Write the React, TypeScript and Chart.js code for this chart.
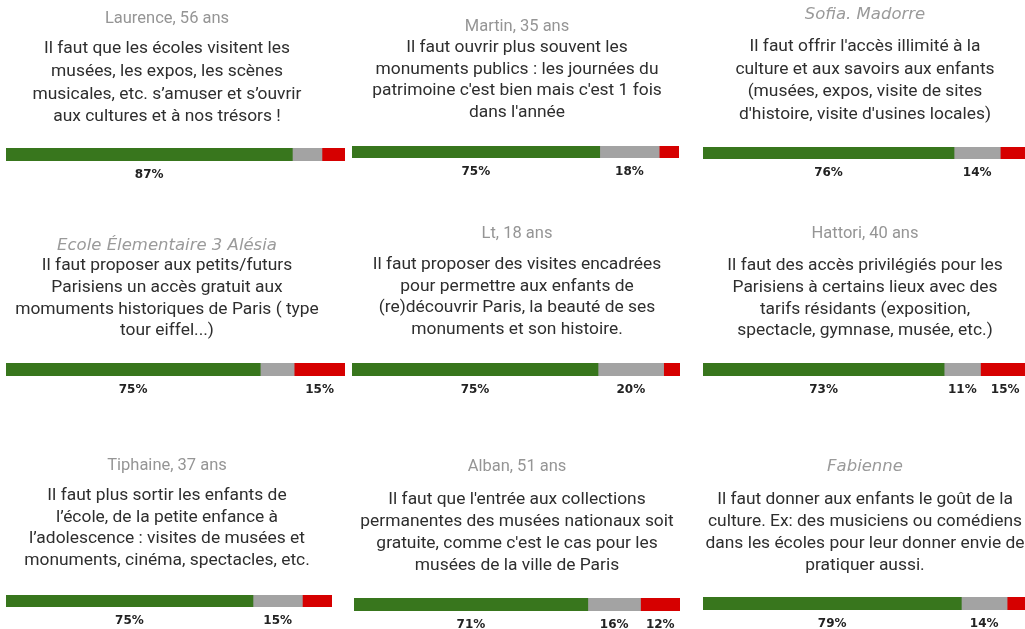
import React, { useEffect, useRef } from "react";
import { Chart, registerables } from "chart.js";

Chart.register(...registerables);

// ---------------- DATA ----------------
const names = [
  "Laurence, 56 ans",
  "Martin, 35 ans",
  "Sofia. Madorre",
  "Ecole Élementaire 3 Alésia",
  "Lt, 18 ans",
  "Hattori, 40 ans",
  "Tiphaine, 37 ans",
  "Alban, 51 ans",
  "Fabienne",
];

const italicNames = [false, false, true, true, false, false, false, false, true];

const quotes = [
  [
    "Il faut que les écoles visitent les",
    "musées, les expos, les scènes",
    "musicales, etc. s’amuser et s’ouvrir",
    "aux cultures et à nos trésors !",
  ],
  [
    "Il faut ouvrir plus souvent les",
    "monuments publics : les journées du",
    "patrimoine c'est bien mais c'est 1 fois",
    "dans l'année",
  ],
  [
    "Il faut offrir l'accès illimité à la",
    "culture et aux savoirs aux enfants",
    "(musées, expos, visite de sites",
    "d'histoire, visite d'usines locales)",
  ],
  [
    "Il faut proposer aux petits/futurs",
    "Parisiens un accès gratuit aux",
    "momuments historiques de Paris ( type",
    "tour eiffel...)",
  ],
  [
    "Il faut proposer des visites encadrées",
    "pour permettre aux enfants de",
    "(re)découvrir Paris, la beauté de ses",
    "monuments et son histoire.",
  ],
  [
    "Il faut des accès privilégiés pour les",
    "Parisiens à certains lieux avec des",
    "tarifs résidants (exposition,",
    "spectacle, gymnase, musée, etc.)",
  ],
  [
    "Il faut plus sortir les enfants de",
    "l’école, de la petite enfance à",
    "l’adolescence : visites de musées et",
    "monuments, cinéma, spectacles, etc.",
  ],
  [
    "Il faut que l'entrée aux collections",
    "permanentes des musées nationaux soit",
    "gratuite, comme c'est le cas pour les",
    "musées de la ville de Paris",
  ],
  [
    "Il faut donner aux enfants le goût de la",
    "culture. Ex: des musiciens ou comédiens",
    "dans les écoles pour leur donner envie de",
    "pratiquer aussi.",
  ],
];

const seriesNames = ["D'accord", "Sans avis", "Pas d'accord"];
const agree = [87, 75, 76, 75, 75, 73, 75, 71, 79];
const neutral = [9, 18, 14, 10, 20, 11, 15, 16, 14];
const disagree = [7, 6, 9, 15, 5, 15, 9, 12, 7];

// ---------------- STYLE / LAYOUT ----------------
const seriesColors = ["#38761d", "#a3a3a3", "#d60000"];
const LABEL_MIN = 10;

type Box = {
  left: number; top: number; width: number; height: number;
  barL: number; barR: number; barT: number; barB: number;
  cx: number; nameY: number; quoteY: number; lh: number;
};

// page coordinates
const boxes: Box[] = [
  { left: 0, top: 0, width: 347, height: 200, barL: 6, barR: 345, barT: 148, barB: 161, cx: 167, nameY: 19, quoteY: 49, lh: 22.7 },
  { left: 347, top: 0, width: 343, height: 200, barL: 352, barR: 679, barT: 146, barB: 158, cx: 517, nameY: 27, quoteY: 48, lh: 21.5 },
  { left: 690, top: 0, width: 345, height: 200, barL: 703, barR: 1030, barT: 147, barB: 159, cx: 865, nameY: 15, quoteY: 47, lh: 22.5 },
  { left: 0, top: 200, width: 347, height: 220, barL: 6, barR: 345, barT: 363, barB: 376, cx: 167, nameY: 246, quoteY: 266, lh: 21.7 },
  { left: 347, top: 200, width: 343, height: 220, barL: 352, barR: 680, barT: 363, barB: 376, cx: 517, nameY: 234, quoteY: 265, lh: 21.5 },
  { left: 690, top: 200, width: 345, height: 220, barL: 703, barR: 1030, barT: 363, barB: 376, cx: 865, nameY: 234, quoteY: 266, lh: 21.7 },
  { left: 0, top: 420, width: 347, height: 209, barL: 6, barR: 332, barT: 595, barB: 607, cx: 167, nameY: 466, quoteY: 496, lh: 21.5 },
  { left: 347, top: 420, width: 343, height: 209, barL: 354, barR: 680, barT: 598, barB: 611, cx: 517, nameY: 467, quoteY: 500, lh: 22 },
  { left: 690, top: 420, width: 345, height: 209, barL: 703, barR: 1030, barT: 597, barB: 610, cx: 865, nameY: 467, quoteY: 500, lh: 22 },
];

const cardTextPlugin = {
  id: "cardText",
  afterDraw(chart: any, _args: any, opts: any) {
    const ctx = chart.ctx;
    ctx.save();
    ctx.textAlign = "center";
    ctx.textBaseline = "middle";
    // name
    ctx.fillStyle = opts.italic ? "#9a9a9a" : "#959595";
    ctx.font = opts.italic
      ? "oblique 16.5px 'DejaVu Sans', sans-serif"
      : "16.5px Roboto, sans-serif";
    ctx.fillText(opts.name, opts.cx, opts.nameY);
    // quote
    ctx.fillStyle = "#2e2e2e";
    ctx.font = "17.4px Roboto, sans-serif";
    opts.lines.forEach((line: string, i: number) => {
      ctx.fillText(line, opts.cx, opts.quoteY + i * opts.lh);
    });
    // value labels
    ctx.fillStyle = "#222222";
    ctx.font = "bold 12px 'DejaVu Sans', sans-serif";
    chart.data.datasets.forEach((ds: any, di: number) => {
      const v = ds.data[0];
      if (v <= LABEL_MIN) return;
      const el = chart.getDatasetMeta(di).data[0] as any;
      const x = (el.x + el.base) / 2;
      ctx.fillText(v + "%", x, chart.chartArea.bottom + 14);
    });
    ctx.restore();
  },
};

function Panel({ index }: { index: number }) {
  const ref = useRef<HTMLCanvasElement | null>(null);
  const b = boxes[index];
  useEffect(() => {
    if (!ref.current) return;
    const vals = [agree[index], neutral[index], disagree[index]];
    const total = vals.reduce((a, c) => a + c, 0);
    const chart = new Chart(ref.current, {
      type: "bar",
      data: {
        labels: [names[index]],
        datasets: seriesNames.map((s, i) => ({
          label: s,
          data: [vals[i]],
          backgroundColor: seriesColors[i],
          borderWidth: 0,
          barPercentage: 1,
          categoryPercentage: 1,
        })),
      },
      options: {
        indexAxis: "y",
        responsive: false,
        animation: false,
        layout: {
          padding: {
            left: b.barL - b.left,
            right: b.left + b.width - b.barR,
            top: b.barT - b.top,
            bottom: b.top + b.height - b.barB,
          },
        },
        scales: {
          x: { stacked: true, display: false, min: 0, max: total },
          y: { stacked: true, display: false },
        },
        plugins: {
          legend: { display: false },
          tooltip: { enabled: false },
          cardText: {
            name: names[index],
            italic: italicNames[index],
            lines: quotes[index],
            cx: b.cx - b.left,
            nameY: b.nameY - b.top,
            quoteY: b.quoteY - b.top,
            lh: b.lh,
          },
        } as any,
      },
      plugins: [cardTextPlugin],
    });
    return () => chart.destroy();
  }, [index]);
  return (
    <canvas
      ref={ref}
      width={b.width}
      height={b.height}
      style={{ position: "absolute", left: b.left, top: b.top, width: b.width, height: b.height, display: "block" }}
    />
  );
}

export default function App() {
  return (
    <div
      style={{
        position: "absolute",
        left: 0,
        top: 0,
        width: 1025,
        height: 629,
        overflow: "hidden",
        background: "#ffffff",
      }}
    >
      {names.map((_, i) => (
        <Panel key={i} index={i} />
      ))}
    </div>
  );
}
